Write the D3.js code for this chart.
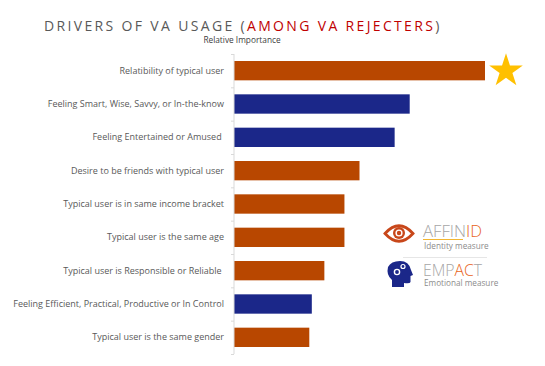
<!DOCTYPE html>
<html>
<head>
<meta charset="utf-8">
<script src="https://cdn.jsdelivr.net/npm/d3@7"></script>
<style>
    html, body { margin: 0; padding: 0; background: #fff; overflow: hidden; }
    text { font-family: "Open Sans", "Noto Sans", sans-serif; }
</style>
</head>
<body>
<svg id="chart" width="545" height="366"></svg>
<script>
const categories = [
    'Relatibility of typical user',
    'Feeling Smart, Wise, Savvy, or In-the-know',
    'Feeling Entertained or Amused ',
    'Desire to be friends with typical user',
    'Typical user is in same income bracket',
    'Typical user is the same age',
    'Typical user is Responsible or Reliable ',
    'Feeling Efficient, Practical, Productive or In Control',
    'Typical user is the same gender'
];
const importance = [100, 70, 64, 50, 44, 44, 36, 31, 30];
const measureType = ['id', 'emo', 'emo', 'id', 'id', 'id', 'id', 'emo', 'id'];

const colors = { id: '#b84700', emo: '#1b2789' };
const margin = { top: 54, left: 234 };
const height = 300;

const svg = d3.select('#chart');
const g = svg.append('g').attr('transform', `translate(${margin.left},${margin.top})`);

const yScale = d3.scaleBand().domain(categories).range([0, height]).paddingInner(0.42).paddingOuter(0.21);
const xScale = d3.scaleLinear().domain([0, 100]).range([0, 251]);

g.selectAll('.bar')
    .data(categories)
    .enter().append('rect')
    .attr('class', 'bar')
    .attr('x', 0)
    .attr('y', d => yScale(d))
    .attr('width', (d, i) => xScale(importance[i]))
    .attr('height', yScale.bandwidth())
    .attr('fill', (d, i) => colors[measureType[i]]);

// Axis line with ticks between the bands
g.append('line').attr('y1', 0).attr('y2', height).attr('stroke', '#d9d9d9');
const step = yScale.step();
g.selectAll('.sep')
    .data(d3.range(categories.length + 1))
    .enter().append('line')
    .attr('class', 'sep')
    .attr('x1', -3).attr('x2', 0)
    .attr('y1', i => i * step + 0.5).attr('y2', i => i * step + 0.5)
    .attr('stroke', '#d9d9d9');

g.selectAll('.label')
    .data(categories)
    .enter().append('text')
    .attr('class', 'label')
    .attr('x', -10)
    .attr('y', d => yScale(d) + yScale.bandwidth() / 2)
    .attr('dy', '.35em')
    .attr('text-anchor', 'end')
    .attr('fill', '#595959')
    .style('font-size', '9px')
    .style('white-space', 'pre')
    .text(d => d);

// Title
const title = svg.append('text')
    .attr('x', 44).attr('y', 30.5)
    .attr('fill', '#595959')
    .style('font-size', '14px')
    .style('letter-spacing', '2.34px');
title.append('tspan').text('DRIVERS OF VA USAGE (');
title.append('tspan').attr('fill', '#c00000').text('AMONG VA REJECTERS');
title.append('tspan').text(')');

svg.append('text')
    .attr('x', 242).attr('y', 43)
    .attr('text-anchor', 'middle')
    .attr('fill', '#404040')
    .style('font-size', '8.3px')
    .text('Relative Importance');

// Star on the top driver
const star = d3.symbol().type(d3.symbolStar).size(350);
svg.append('path')
    .attr('d', star())
    .attr('transform', 'translate(506,71)')
    .attr('fill', '#ffc000');

// Affinid logo
const logo = svg.append('g');
logo.append('path')
    .attr('d', 'M385,233.5 Q399,218 413,233.5 Q399,249 385,233.5 Z')
    .attr('fill', 'none').attr('stroke', '#c8471a').attr('stroke-width', 2.8);
logo.append('circle').attr('cx', 399).attr('cy', 233).attr('r', 6).attr('fill', '#c8471a');
logo.append('circle').attr('cx', 399).attr('cy', 233).attr('r', 3.6).attr('fill', '#fff');
logo.append('circle').attr('cx', 399).attr('cy', 233).attr('r', 2.2).attr('fill', '#c8471a');

const affin = logo.append('text').attr('x', 423).attr('y', 237).attr('fill', '#a6a6a6')
    .attr('textLength', 59).attr('lengthAdjust', 'spacingAndGlyphs')
    .style('font-size', '16px').style('font-weight', 300);
affin.append('tspan').text('AFFIN');
affin.append('tspan').attr('fill', '#e8641b').text('ID');
logo.append('line').attr('x1', 423).attr('x2', 463).attr('y1', 239.5).attr('y2', 239.5)
    .attr('stroke', '#f2b632').attr('stroke-width', 1);
logo.append('text').attr('x', 424).attr('y', 248.5).attr('fill', '#8c8c8c')
    .style('font-size', '8.2px').text('Identity measure');
logo.append('line').attr('x1', 403).attr('x2', 487).attr('y1', 257.5).attr('y2', 257.5)
    .attr('stroke', '#e6e6e6');

// Empact logo
logo.append('path')
    .attr('d', 'M392,287 L392,280 Q386,275 388,267 Q391,261 400,261 Q409,261 411,270 L413,275 L410.5,276 L410.5,282 Q410,284 404,283 L404,287 Z')
    .attr('fill', '#1b2789');
logo.append('circle').attr('cx', 397).attr('cy', 272).attr('r', 2.6).attr('fill', 'none').attr('stroke', '#fff').attr('stroke-width', 1.4);
logo.append('circle').attr('cx', 403).attr('cy', 266.5).attr('r', 2).attr('fill', 'none').attr('stroke', '#fff').attr('stroke-width', 1.2);

const empact = logo.append('text').attr('x', 423).attr('y', 276).attr('fill', '#a6a6a6')
    .attr('textLength', 59).attr('lengthAdjust', 'spacingAndGlyphs')
    .style('font-size', '16px').style('font-weight', 300);
empact.append('tspan').text('EMP');
empact.append('tspan').attr('fill', '#e8641b').text('AC');
empact.append('tspan').text('T');
logo.append('text').attr('x', 424).attr('y', 286).attr('fill', '#8c8c8c')
    .style('font-size', '8.2px').text('Emotional measure');
</script>
</body>
</html>
